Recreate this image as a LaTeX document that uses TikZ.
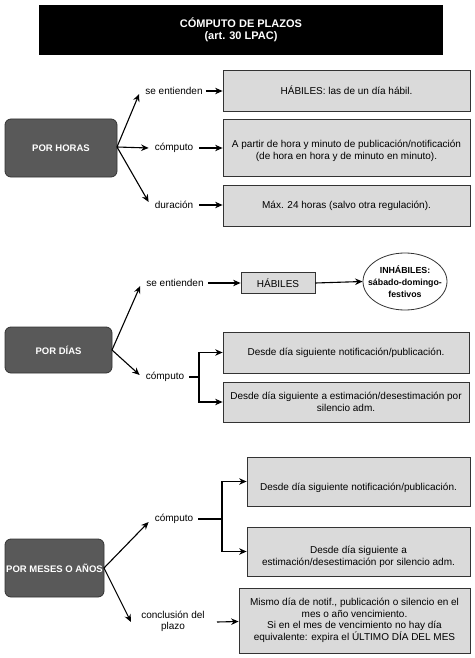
\documentclass[tikz,border=0pt]{standalone}
\usepackage{fontspec}
\setmainfont{Liberation Sans}
\usetikzlibrary{arrows.meta,shapes.geometric,calc}
\definecolor{boxgray}{HTML}{DADADA}
\definecolor{darkfill}{HTML}{595959}
\definecolor{darkline}{HTML}{333333}
\begin{document}
\begin{tikzpicture}[x=1pt,y=-1pt,
  font=\fontsize{10}{11.5}\selectfont,
  textbox/.style={draw=darkline,fill=boxgray,line width=0.8pt,minimum width=#1,inner sep=1pt,align=center},
  darkbox/.style={draw=darkline,fill=darkfill,rounded corners=6pt,line width=0.8pt,text=white,font=\fontsize{9.5}{11}\selectfont\bfseries,align=center,inner sep=1pt},
  lbl/.style={inner sep=1pt,align=center},
  txt/.style={inner sep=0pt,align=center},
  arr/.style={-{Stealth[length=7.5pt,width=6.5pt]},line width=1.1pt},
  ln/.style={line width=1.1pt}
]
\useasboundingbox (0,0) rectangle (474,658);
% title
\node[fill=black,minimum width=404pt,minimum height=50pt,text=white,font=\fontsize{11}{12.5}\selectfont\bfseries,align=center] (title) at (241,30) {CÓMPUTO DE PLAZOS\\(art. 30 LPAC)};

% ===== POR HORAS =====
\node[darkbox,minimum width=112pt,minimum height=58pt] (horas) at (61,148) {POR HORAS};
\node[lbl] (h1l) at (174,91) {se entienden};
\node[lbl] (h2l) at (174,148) {cómputo};
\node[lbl] (h3l) at (174,205) {duración};
\node[textbox=247pt,minimum height=41pt] (h1) at (346.5,90.5) {HÁBILES: las de un día hábil.};
\node[textbox=247pt,minimum height=57pt] (h2) at (346.5,147.5) {};
\node[txt] (h2t) at (346.5,151) {A partir de hora y minuto de publicación/notificación\\(de hora en hora y de minuto en minuto).};
\node[textbox=247pt,minimum height=41pt] (h3) at (346.5,205.5) {Máx. 24 horas (salvo otra regulación).};
\coordinate (hs) at (117,147);
\draw[arr] (hs) -- ($(h1l.west)+(-5,3)$);
\draw[arr] (hs) -- ($(h2l.west)+(-5,0)$);
\draw[arr] (hs) -- ($(h3l.west)+(-5,-3)$);
\draw[arr] ($(h1l.east)+(2,0)$) -- (h1.west|-h1l.east);
\draw[arr] ($(h2l.east)+(5,0)$) -- (h2.west|-h2l.east);
\draw[arr] ($(h3l.east)+(5,0)$) -- (h3.west|-h3l.east);

% ===== POR DIAS =====
\node[darkbox,minimum width=107pt,minimum height=46pt] (dias) at (58.5,350) {POR DÍAS};
\node[lbl] (d1l) at (175,283) {se entienden};
\node[lbl] (d2l) at (165,377) {cómputo};
\node[textbox=74pt,minimum height=21pt] (hab) at (278,283) {HÁBILES};
\node[draw=darkline,fill=white,ellipse,line width=0.8pt,minimum width=84pt,minimum height=57pt,inner sep=0pt] (inh) at (405,281.5) {};
\node[txt,font=\fontsize{8.8}{12}\selectfont\bfseries] (inht) at (405,282) {INHÁBILES:\\sábado-domingo-\\festivos};
\node[textbox=246pt,minimum height=41pt] (dA) at (346,352.5) {Desde día siguiente notificación/publicación.};
\node[textbox=246pt,minimum height=40pt] (dB) at (346,402) {Desde día siguiente a estimación/desestimación por\\silencio adm.};
\coordinate (ds) at (112,350);
\draw[arr] (ds) -- ($(d1l.west)+(-5,3)$);
\draw[arr] (ds) -- ($(d2l.west)+(-5,-2)$);
\draw[arr] ($(d1l.east)+(3,0)$) -- (hab.west);
\draw[arr] (hab.east) -- (inh.west);
\coordinate (dfork) at (199,377);
\draw[ln] ($(d2l.east)+(4,0)$) -- (dfork);
\draw[arr] (dfork) |- (dA.west);
\draw[arr] (dfork) |- (dB.west);

% ===== POR MESES O AÑOS =====
\node[darkbox,minimum width=99pt,minimum height=58pt] (meses) at (54.5,568) {POR MESES O AÑOS};
\node[lbl] (m1l) at (174,519) {cómputo};
\node[lbl] (m2l) at (173,621.5) {conclusión del\\plazo};
\node[textbox=223pt,minimum height=49pt] (mC) at (358.5,481.5) {};
\node[txt] (mCt) at (358.5,488) {Desde día siguiente notificación/publicación.};
\node[textbox=223pt,minimum height=49pt] (mD) at (358.5,551.5) {};
\node[txt] (mDt) at (358.5,557) {Desde día siguiente a\\estimación/desestimación por silencio adm.};
\node[textbox=231pt,minimum height=65pt] (mE) at (354.5,620.5) {Mismo día de notif., publicación o silencio en el\\mes o año vencimiento.\\Si en el mes de vencimiento no hay día\\equivalente: expira el ÚLTIMO DÍA DEL MES};
\coordinate (ms) at (104,568);
\draw[arr] (ms) -- ($(m1l.west)+(-5,3)$);
\draw[arr] (ms) -- (131,622);
\coordinate (mfork) at (222,519);
\draw[ln] ($(m1l.east)+(4,0)$) -- (mfork);
\draw[arr] (mfork) |- (mC.west);
\draw[arr] (mfork) |- (mD.west);
\draw[arr] (217,622) -- (mE.west|-m2l.east);
\end{tikzpicture}
\end{document}
